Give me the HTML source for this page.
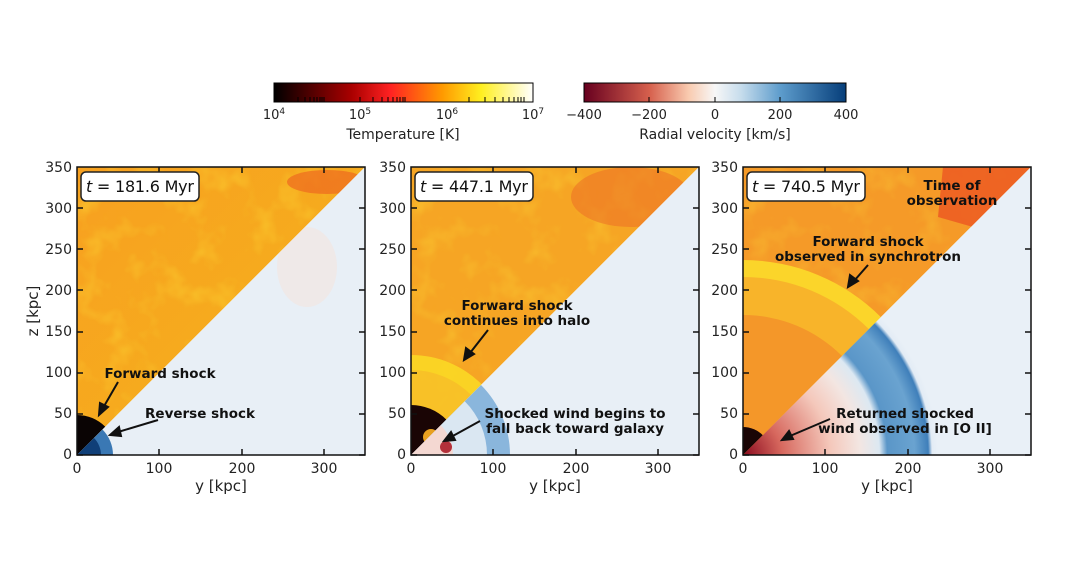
<!DOCTYPE html>
<html><head><meta charset="utf-8"><style>
html,body{margin:0;padding:0;background:#fff;width:1068px;height:580px;overflow:hidden}
svg{display:block}
svg text{font-family:"DejaVu Sans","Liberation Sans",sans-serif}
</style></head><body>
<svg width="1068" height="580" viewBox="0 0 1068 580" xmlns="http://www.w3.org/2000/svg">
<defs>
<linearGradient id="tcb" x1="0" x2="1"><stop offset="0" stop-color="#000"/><stop offset="0.3" stop-color="#a00"/><stop offset="0.45" stop-color="#f22"/><stop offset="0.65" stop-color="#ff9a00"/><stop offset="0.8" stop-color="#ffef20"/><stop offset="1" stop-color="#fff"/></linearGradient>
<linearGradient id="vcb" x1="0" x2="1"><stop offset="0" stop-color="#67001f"/><stop offset="0.25" stop-color="#d6604d"/><stop offset="0.4" stop-color="#f9cbb0"/><stop offset="0.5" stop-color="#f7f7f7"/><stop offset="0.6" stop-color="#c6dcec"/><stop offset="0.75" stop-color="#5d9ccc"/><stop offset="1" stop-color="#063e7a"/></linearGradient>
<clipPath id="up"><polygon points="0,0 288,0 0,288"/></clipPath>
<clipPath id="lo"><polygon points="288,0 288,288 0,288"/></clipPath>
<filter id="tex" x="0" y="0" width="100%" height="100%"><feTurbulence type="fractalNoise" baseFrequency="0.035" numOctaves="3" seed="3"/><feColorMatrix values="0 0 0 0 1  0 0 0 0 0.85  0 0 0 0 0.05  0 0 0 1.2 -0.6"/></filter>
<linearGradient id="org1" x1="0" y1="0" x2="1" y2="1"><stop offset="0" stop-color="#f7a020"/><stop offset="1" stop-color="#f6b41c"/></linearGradient>
<radialGradient id="red3" gradientUnits="userSpaceOnUse" cx="0" cy="288" r="195"><stop offset="0" stop-color="#8a0a1e"/><stop offset="0.2" stop-color="#d7685e"/><stop offset="0.45" stop-color="#f4c8bb"/><stop offset="0.6" stop-color="#f3e6e2"/><stop offset="0.7" stop-color="#dce8f2"/><stop offset="0.74" stop-color="#5a96c8"/><stop offset="0.88" stop-color="#6aa3d0"/><stop offset="0.95" stop-color="#3f7fba"/><stop offset="0.97" stop-color="#e3ecf5"/><stop offset="1" stop-color="#e9f0f7"/></radialGradient>
</defs>

<rect x="274" y="83" width="259" height="19" fill="url(#tcb)" stroke="#000" stroke-width="1"/>
<g stroke="#000" stroke-width="1">
<line x1="298" y1="97" x2="298" y2="102"/><line x1="305" y1="97" x2="305" y2="102"/><line x1="310" y1="97" x2="310" y2="102"/><line x1="314" y1="97" x2="314" y2="102"/><line x1="317" y1="97" x2="317" y2="102"/><line x1="320" y1="97" x2="320" y2="102"/><line x1="322" y1="97" x2="322" y2="102"/><line x1="324" y1="97" x2="324" y2="102"/>
<line x1="360" y1="97" x2="360" y2="102"/><line x1="373" y1="97" x2="373" y2="102"/><line x1="382" y1="97" x2="382" y2="102"/><line x1="388" y1="97" x2="388" y2="102"/><line x1="393" y1="97" x2="393" y2="102"/><line x1="397" y1="97" x2="397" y2="102"/><line x1="400" y1="97" x2="400" y2="102"/><line x1="403" y1="97" x2="403" y2="102"/><line x1="405" y1="97" x2="405" y2="102"/>
<line x1="469" y1="97" x2="469" y2="102"/><line x1="485" y1="97" x2="485" y2="102"/><line x1="495" y1="97" x2="495" y2="102"/><line x1="503" y1="97" x2="503" y2="102"/><line x1="509" y1="97" x2="509" y2="102"/><line x1="514" y1="97" x2="514" y2="102"/><line x1="518" y1="97" x2="518" y2="102"/><line x1="521" y1="97" x2="521" y2="102"/><line x1="524" y1="97" x2="524" y2="102"/>
</g>
<g font-size="13" fill="#222" text-anchor="middle">
<text x="274" y="119">10<tspan font-size="9" dy="-5">4</tspan></text>
<text x="360" y="119">10<tspan font-size="9" dy="-5">5</tspan></text>
<text x="447" y="119">10<tspan font-size="9" dy="-5">6</tspan></text>
<text x="533" y="119">10<tspan font-size="9" dy="-5">7</tspan></text>
<text x="403" y="139" font-size="14">Temperature [K]</text>
</g>
<rect x="584" y="83" width="262" height="19" fill="url(#vcb)" stroke="#000" stroke-width="1"/>
<g stroke="#000"><line x1="649" y1="97" x2="649" y2="102"/><line x1="715" y1="97" x2="715" y2="102"/><line x1="780" y1="97" x2="780" y2="102"/></g>
<g font-size="13" fill="#222" text-anchor="middle">
<text x="584" y="119">−400</text><text x="649" y="119">−200</text><text x="715" y="119">0</text><text x="780" y="119">200</text><text x="846" y="119">400</text>
<text x="715" y="139" font-size="14">Radial velocity [km/s]</text>
</g>

<!-- Panel 1 -->
<g transform="translate(77,167)">
<g clip-path="url(#up)"><rect width="288" height="288" fill="url(#org1)"/><rect width="288" height="288" filter="url(#tex)" opacity="0.7"/>
<ellipse cx="250" cy="15" rx="40" ry="12" fill="#ee6a20" opacity="0.7"/>
<circle cx="0" cy="288" r="40" fill="#0a0404"/></g>
<g clip-path="url(#lo)"><rect width="288" height="288" fill="#e8eff6"/>
<ellipse cx="230" cy="100" rx="30" ry="40" fill="#f3e4e0" opacity="0.6"/>
<circle cx="0" cy="288" r="36" fill="#3a78b4"/><circle cx="0" cy="288" r="24" fill="#103f78"/></g>
</g>
<!-- Panel 2 -->
<g transform="translate(411,167)">
<g clip-path="url(#up)"><rect width="288" height="288" fill="#f6a524"/><rect width="288" height="288" filter="url(#tex)" opacity="0.6"/>
<ellipse cx="220" cy="30" rx="60" ry="30" fill="#ec6a25" opacity="0.5"/>
<circle cx="0" cy="288" r="100" fill="#fbd825" opacity="0.9"/><circle cx="0" cy="288" r="85" fill="#f7b52a" opacity="0.6"/>
<circle cx="0" cy="288" r="50" fill="#1a0505"/><circle cx="20" cy="270" r="8" fill="#e8a020"/></g>
<g clip-path="url(#lo)"><rect width="288" height="288" fill="#e8eff6"/>
<circle cx="0" cy="288" r="99" fill="#8ab6dc"/><circle cx="0" cy="288" r="76" fill="#dae7f2"/>
<circle cx="0" cy="288" r="42" fill="#f4d8d2"/><circle cx="35" cy="280" r="6" fill="#b3303a"/></g>
</g>
<!-- Panel 3 -->
<g transform="translate(743,167)">
<g clip-path="url(#up)"><rect width="288" height="288" fill="#f59a28"/><rect width="288" height="288" filter="url(#tex)" opacity="0.5"/>
<polygon points="200,0 288,0 230,60 195,50" fill="#ec5a22" opacity="0.85"/>
<circle cx="0" cy="288" r="195" fill="#fbd52a"/><circle cx="0" cy="288" r="178" fill="#f8b42a"/>
<circle cx="0" cy="288" r="140" fill="#f28a2a" opacity="0.7"/>
<circle cx="0" cy="288" r="28" fill="#1a0505"/></g>
<g clip-path="url(#lo)"><rect width="288" height="288" fill="url(#red3)"/></g>
</g>

<g fill="none" stroke="#111" stroke-width="1.5">
<rect x="77" y="167" width="288" height="288"/><rect x="411" y="167" width="288" height="288"/><rect x="743" y="167" width="288" height="288"/>
</g>
<g stroke="#111" stroke-width="1.5">
<path d="M77 455h6M77 414h6M77 373h6M77 332h6M77 290h6M77 249h6M77 208h6M365 455h-6M365 414h-6M365 373h-6M365 332h-6M365 290h-6M365 249h-6M365 208h-6M159 455v-6M242 455v-6M324 455v-6M159 167v6M242 167v6M324 167v6"/>
<path d="M411 455h6M411 414h6M411 373h6M411 332h6M411 290h6M411 249h6M411 208h6M699 455h-6M699 414h-6M699 373h-6M699 332h-6M699 290h-6M699 249h-6M699 208h-6M493 455v-6M576 455v-6M658 455v-6M493 167v6M576 167v6M658 167v6"/>
<path d="M743 455h6M743 414h6M743 373h6M743 332h6M743 290h6M743 249h6M743 208h6M1031 455h-6M1031 414h-6M1031 373h-6M1031 332h-6M1031 290h-6M1031 249h-6M1031 208h-6M825 455v-6M908 455v-6M990 455v-6M825 167v6M908 167v6M990 167v6"/>
</g>
<g font-size="14" fill="#222" text-anchor="end">
<text x="72" y="172">350</text><text x="72" y="213">300</text><text x="72" y="254">250</text><text x="72" y="295">200</text><text x="72" y="336">150</text><text x="72" y="377">100</text><text x="72" y="418">50</text><text x="72" y="459">0</text>
<text x="406" y="172">350</text><text x="406" y="213">300</text><text x="406" y="254">250</text><text x="406" y="295">200</text><text x="406" y="336">150</text><text x="406" y="377">100</text><text x="406" y="418">50</text><text x="406" y="459">0</text>
<text x="738" y="172">350</text><text x="738" y="213">300</text><text x="738" y="254">250</text><text x="738" y="295">200</text><text x="738" y="336">150</text><text x="738" y="377">100</text><text x="738" y="418">50</text><text x="738" y="459">0</text>
</g>
<g font-size="14" fill="#222" text-anchor="middle">
<text x="77" y="473">0</text><text x="159" y="473">100</text><text x="242" y="473">200</text><text x="324" y="473">300</text>
<text x="411" y="473">0</text><text x="493" y="473">100</text><text x="576" y="473">200</text><text x="658" y="473">300</text>
<text x="743" y="473">0</text><text x="825" y="473">100</text><text x="908" y="473">200</text><text x="990" y="473">300</text>
<text x="221" y="491" font-size="15">y [kpc]</text><text x="555" y="491" font-size="15">y [kpc]</text><text x="887" y="491" font-size="15">y [kpc]</text>
<text transform="translate(38,311) rotate(-90)" font-size="15">z [kpc]</text>
</g>

<g font-size="16" fill="#111">
<rect x="81" y="172" width="118" height="29" rx="5" fill="#fff" stroke="#222" stroke-width="1.5"/><text x="86" y="192" textLength="108"><tspan font-style="italic">t</tspan> = 181.6 Myr</text>
<rect x="415" y="172" width="118" height="29" rx="5" fill="#fff" stroke="#222" stroke-width="1.5"/><text x="420" y="192" textLength="108"><tspan font-style="italic">t</tspan> = 447.1 Myr</text>
<rect x="747" y="172" width="118" height="29" rx="5" fill="#fff" stroke="#222" stroke-width="1.5"/><text x="752" y="192" textLength="108"><tspan font-style="italic">t</tspan> = 740.5 Myr</text>
</g>

<g font-size="13.5" font-weight="bold" fill="#111" text-anchor="middle">
<text x="160" y="378">Forward shock</text>
<text x="200" y="418">Reverse shock</text>
<text x="517" y="310">Forward shock</text><text x="517" y="325">continues into halo</text>
<text x="575" y="418">Shocked wind begins to</text><text x="575" y="433">fall back toward galaxy</text>
<text x="952" y="190">Time of</text><text x="952" y="205">observation</text>
<text x="868" y="246">Forward shock</text><text x="868" y="261">observed in synchrotron</text>
<text x="905" y="418">Returned shocked</text><text x="905" y="433">wind observed in [O II]</text>
</g>
<g stroke="#111" stroke-width="2" fill="#111">
<line x1="118" y1="382" x2="103" y2="408"/><polygon points="99,415 100,403 108,407"/>
<line x1="158" y1="420" x2="118" y2="432"/><polygon points="110,435 119,427 121,436"/>
<line x1="488" y1="330" x2="470" y2="353"/><polygon points="464,360 466,348 474,354"/>
<line x1="480" y1="421" x2="451" y2="437"/><polygon points="444,441 451,432 455,440"/>
<line x1="868" y1="265" x2="854" y2="281"/><polygon points="848,287 850,275 858,281"/>
<line x1="830" y1="419" x2="790" y2="436"/><polygon points="782,440 789,431 793,439"/>
</g>
</svg>
</body></html>
